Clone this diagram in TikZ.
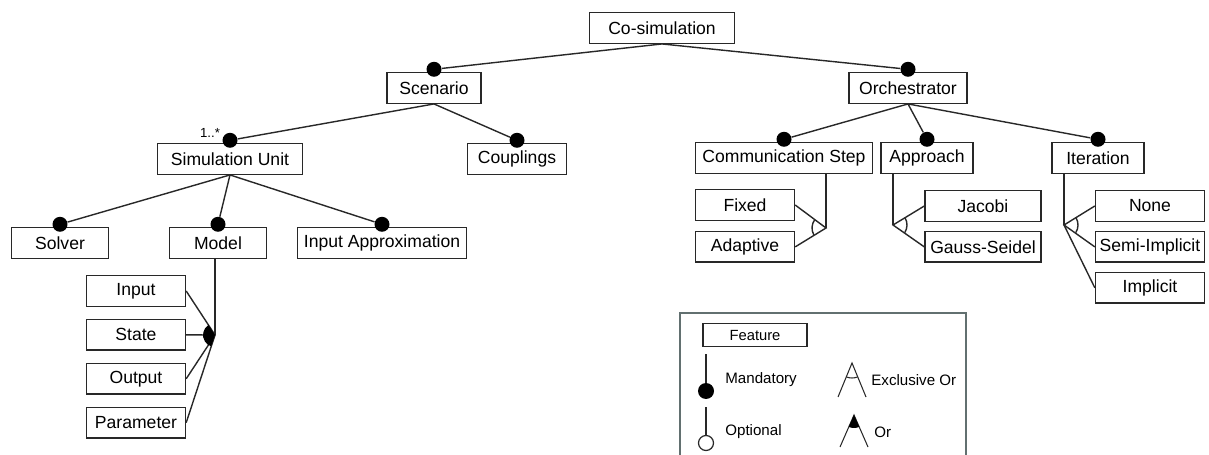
\documentclass[tikz,border=0pt]{standalone}
\usepackage{fontspec}
\setmainfont{Liberation Sans}
\usepackage{tikz}
\usetikzlibrary{positioning,calc}
\definecolor{fmdark}{RGB}{40,40,40}
\definecolor{fmframe}{RGB}{98,112,112}
\tikzstyle{feature} = [rectangle, minimum height=0.61cm, text centered, draw=fmdark, line width=0.8pt, inner sep=1pt, font=\fontsize{10}{12}\selectfont]
\tikzstyle{mand} = [circle, fill=black, inner sep=0pt, minimum size=0.3cm]
\tikzstyle{conn} = [draw=fmdark, line width=0.8pt]
\tikzstyle{legtext} = [anchor=west, inner sep=0pt, font=\fontsize{8.6}{10}\selectfont]

\begin{document}
\begin{tikzpicture}[x=0.02cm, y=-0.02cm, node distance=0.24cm]
\useasboundingbox (0,0) rectangle (1209,455);
\node[feature, minimum width=2.9cm] (cosim) at (662,28) {Co-simulation};
\node[feature, minimum width=1.88cm] (scen) at (434,88) {Scenario};
\node[feature, minimum width=2.36cm] (orch) at (908,88) {Orchestrator};
\node[feature, minimum width=2.9cm] (simu) at (230,159) {Simulation Unit};
\node[feature, minimum width=1.98cm] (coupl) at (517,159) {Couplings};
\node[feature, minimum width=3.54cm] (commstep) at (784,158) {Communication Step};
\node[feature, minimum width=1.84cm] (appr) at (927,158) {Approach};
\node[feature, minimum width=1.84cm] (iter) at (1098,158) {Iteration};
\node[feature, minimum width=1.94cm] (solver) at (60,243) {Solver};
\node[feature, minimum width=1.94cm] (model) at (218,243) {Model};
\node[feature, minimum width=3.38cm] (inapprox) at (382,243) {Input Approximation};
\node[feature, minimum width=1.98cm] (input) at (136,291) {Input};
\node[feature, minimum width=1.98cm, below=of input] (state) {State};
\node[feature, minimum width=1.98cm, below=of state] (output) {Output};
\node[feature, minimum width=1.98cm, below=of output] (param) {Parameter};
\node[feature, minimum width=1.98cm] (fixed) at (745,205) {Fixed};
\node[feature, minimum width=1.98cm, below=0.2cm of fixed] (adaptive) {Adaptive};
\node[feature, minimum width=2.32cm] (jacobi) at (983,206) {Jacobi};
\node[feature, minimum width=2.32cm, below=0.18cm of jacobi] (gauss) {Gauss-Seidel};
\node[feature, minimum width=2.18cm] (none) at (1150,206) {None};
\node[feature, minimum width=2.18cm, below=0.18cm of none] (semi) {Semi-Implicit};
\node[feature, minimum width=2.18cm, below=0.18cm of semi] (implicit) {Implicit};
\node[font=\fontsize{7.5}{9}\selectfont, inner sep=0pt] (mult) at (210,133) {1..*};
\foreach \n in {scen,orch,simu,coupl,commstep,appr,iter,solver,model,inapprox}
  \node[mand] (d\n) at ([yshift=0.055cm]\n.north) {};
\draw[conn] (cosim.south) -- (dscen);
\draw[conn] (cosim.south) -- (dorch);
\draw[conn] (scen.south) -- (dsimu);
\draw[conn] (scen.south) -- (dcoupl);
\draw[conn] (orch.south) -- (dcommstep);
\draw[conn] (orch.south) -- (dappr);
\draw[conn] (orch.south) -- (diter);
\draw[conn] (simu.south) -- (dsolver);
\draw[conn] (simu.south) -- (dmodel);
\draw[conn] (simu.south) -- (dinapprox);
\coordinate (jmodel) at (215,335);
\draw[conn] (jmodel |- model.south) -- (jmodel);
\foreach \n in {input,state,output,param}
  \draw[conn] (\n.east) -- (jmodel);
\fill (jmodel) -- ++(123:0.24cm) arc[start angle=123, end angle=251, radius=0.24cm] -- cycle;
\coordinate (jcomm) at (826,228);
\draw[conn] (jcomm |- commstep.south) -- (jcomm);
\draw[conn] (fixed.east) -- (jcomm) -- (adaptive.east);
\draw[conn] ([shift={(144:0.28cm)}]jcomm) arc[start angle=144, end angle=209, radius=0.28cm];
\coordinate (jappr) at (893,225);
\draw[conn] (jappr |- appr.south) -- (jappr);
\draw[conn] (jacobi.west) -- (jappr) -- (gauss.west);
\draw[conn] ([shift={(-33:0.28cm)}]jappr) arc[start angle=-33, end angle=31, radius=0.28cm];
\coordinate (jiter) at (1064,225);
\draw[conn] (jiter |- iter.south) -- (jiter);
\draw[conn] (none.west) -- (jiter) -- (semi.west);
\draw[conn] (jiter) -- (implicit.west);
\draw[conn] ([shift={(-33:0.28cm)}]jiter) arc[start angle=-33, end angle=31, radius=0.28cm];
\draw[draw=fmframe, line width=1.2pt] (680,313) rectangle (966,475);
\node[feature, minimum width=2.08cm, minimum height=0.46cm, font=\fontsize{8.4}{10}\selectfont] (legfeat) at (755,335) {Feature};
\node[mand, minimum size=0.32cm] (legmand) at (706,391) {};
\draw[conn, line width=0.6pt] (legmand.north) -- ++(0,-29);
\node[circle, draw=fmdark, line width=0.7pt, inner sep=0pt, minimum size=0.3cm] (legopt) at (706,443) {};
\draw[conn, line width=0.6pt] (legopt.north) -- ++(0,-28);
\node[legtext] (lmand) at (725,380) {Mandatory};
\node[legtext] (lopt) at (725,432) {Optional};
\draw[conn, line width=0.6pt] (838,397) -- (852,363) -- (866,397);
\draw[conn, line width=0.6pt] ([shift={(248:0.3cm)}]852,363) arc[start angle=248, end angle=292, radius=0.3cm];
\node[legtext] (lxor) at (871,380) {Exclusive Or};
\draw[conn, line width=0.6pt] (840,447) -- (854,415) -- (868,447);
\fill (854,415) -- ++(246:0.26cm) arc[start angle=246, end angle=294, radius=0.26cm] -- cycle;
\node[legtext] (lor) at (874,432) {Or};
\end{tikzpicture}
\end{document}
